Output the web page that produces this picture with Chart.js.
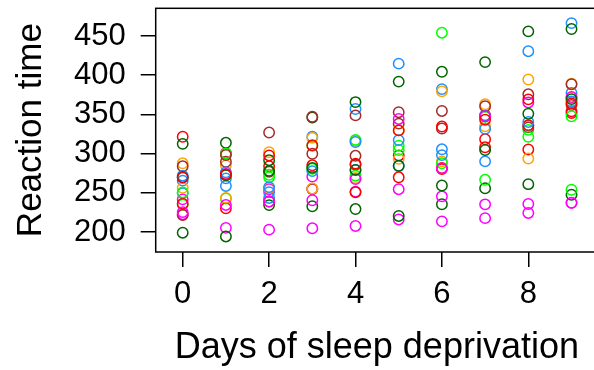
<!DOCTYPE html>
<html>
<head>
<meta charset="utf-8">
<script src="https://cdn.jsdelivr.net/npm/chart.js@4/dist/chart.umd.min.js"></script>
<style>
  html, body { margin: 0; padding: 0; background: #fff; overflow: hidden; width: 594px; height: 370px; }
  canvas { display: block; }
</style>
</head>
<body>
<canvas id="chart" width="600" height="370"></canvas>
<script>
// sleepstudy: reaction time (ms) by day, one array per subject
const days = [0, 1, 2, 3, 4, 5, 6, 7, 8, 9];
const subjects = ['308', '309', '310', '330', '331', '332', '333', '334', '335',
                  '337', '349', '350', '351', '352', '369', '370', '371', '372'];
const r308 = [249.6, 258.7, 250.8, 321.4, 356.9, 414.7, 382.2, 290.1, 430.6, 466.4];
const r309 = [222.7, 205.3, 203.0, 204.7, 207.7, 216.0, 213.6, 217.7, 224.3, 237.3];
const r310 = [199.1, 194.3, 234.3, 232.8, 229.3, 220.5, 235.4, 255.8, 261.0, 247.5];
const r330 = [321.5, 300.4, 283.9, 285.1, 285.8, 297.6, 280.2, 318.3, 305.3, 354.0];
const r331 = [287.6, 285.0, 301.8, 320.1, 316.3, 293.3, 290.1, 334.8, 293.7, 371.6];
const r332 = [234.9, 242.8, 273.0, 309.8, 317.5, 310.0, 454.2, 346.8, 330.3, 253.9];
const r333 = [283.8, 289.6, 276.8, 299.8, 297.2, 338.2, 332.0, 348.8, 333.4, 362.0];
const r334 = [265.5, 276.2, 243.4, 254.7, 279.0, 284.2, 305.5, 331.5, 335.7, 377.3];
const r335 = [241.6, 273.9, 254.5, 270.8, 251.5, 254.6, 245.5, 235.3, 235.8, 237.2];
const r337 = [312.4, 313.8, 291.6, 346.1, 365.7, 391.8, 404.3, 416.7, 455.9, 458.9];
const r349 = [236.1, 230.3, 238.9, 254.9, 250.7, 269.8, 281.6, 308.1, 336.3, 351.6];
const r350 = [256.3, 243.5, 256.2, 255.5, 268.9, 329.7, 379.4, 362.9, 394.5, 389.1];
const r351 = [250.5, 300.1, 269.9, 280.6, 271.8, 304.6, 287.7, 266.6, 321.5, 347.6];
const r352 = [221.7, 298.2, 326.9, 346.9, 348.7, 352.8, 354.4, 360.4, 375.6, 388.5];
const r369 = [271.9, 268.4, 257.2, 277.7, 314.8, 317.2, 298.1, 348.1, 340.3, 366.5];
const r370 = [225.3, 234.5, 238.9, 240.5, 267.5, 344.2, 281.1, 347.6, 365.2, 372.2];
const r371 = [269.9, 272.4, 277.9, 281.8, 279.2, 284.5, 259.3, 304.6, 350.8, 369.5];
const r372 = [269.4, 273.5, 297.6, 310.6, 287.2, 329.6, 334.5, 343.2, 369.1, 364.1];
const reaction = [r308, r309, r310, r330, r331, r332, r333, r334, r335,
                  r337, r349, r350, r351, r352, r369, r370, r371, r372];
const xTicks = [0, 2, 4, 6, 8];
const yTicks = [200, 250, 300, 350, 400, 450];

// colours cycle over the subjects
const palette = ['#1E90FF', '#FF00FF', '#006400', '#FF0000', '#FFA500', '#00FF00', '#A52A2A'];
const FONT = '"Liberation Sans", Arial, Helvetica, sans-serif';

// one dataset so later subjects are drawn on top, like base graphics
const points = [];
const colors = [];
subjects.forEach((s, i) => {
  days.forEach((d, j) => {
    points.push({ x: d, y: reaction[i][j] });
    colors.push(palette[i % palette.length]);
  });
});

// full box around the plot region (right side runs off the page)
const boxPlugin = {
  id: 'box',
  afterDraw(chart) {
    const { ctx, chartArea: a } = chart;
    ctx.save();
    ctx.strokeStyle = '#000';
    ctx.lineWidth = 1.5;
    ctx.strokeRect(a.left, a.top, a.right - a.left, a.bottom - a.top);
    ctx.restore();
  }
};

// fixed axis sizes, no automatic label padding
const noPad = (s) => { s.paddingLeft = 0; s.paddingRight = 0; s.paddingTop = 0; s.paddingBottom = 0; };

const tickGrid = { display: true, drawOnChartArea: false, drawTicks: true, tickLength: 15, color: '#000', lineWidth: 1.5 };

new Chart(document.getElementById('chart').getContext('2d'), {
  type: 'scatter',
  data: {
    datasets: [{
      data: points,
      pointStyle: 'circle',
      pointRadius: 5.2,
      pointHoverRadius: 5.2,
      pointBorderWidth: 1.5,
      pointBorderColor: colors,
      pointBackgroundColor: 'rgba(0,0,0,0)'
    }]
  },
  options: {
    responsive: false,
    animation: false,
    events: [],
    layout: { autoPadding: false, padding: { top: 8.3, right: 2, bottom: 0, left: 0 } },
    plugins: { legend: { display: false }, tooltip: { enabled: false } },
    scales: {
      x: {
        type: 'linear',
        min: -0.625,
        max: 9.613,
        afterBuildTicks: (s) => { s.ticks = xTicks.map(v => ({ value: v })); },
        afterFit: (s) => { s.height = 118; noPad(s); },
        grid: tickGrid,
        border: { display: false },
        ticks: { color: '#000', font: { family: FONT, size: 31 }, padding: 9, maxRotation: 0, callback: (v) => String(v) },
        title: { display: true, text: 'Days of sleep deprivation', color: '#000', font: { family: FONT, size: 36 }, padding: { top: 0, bottom: 0 } }
      },
      y: {
        min: 174.5,
        max: 485.3,
        afterBuildTicks: (s) => { s.ticks = yTicks.map(v => ({ value: v })); },
        afterFit: (s) => { s.width = 155.7; noPad(s); },
        grid: tickGrid,
        border: { display: false },
        ticks: { color: '#000', font: { family: FONT, size: 31 }, padding: 15, callback: (v) => String(v) },
        title: { display: true, text: 'Reaction time', color: '#000', font: { family: FONT, size: 35 }, padding: { top: 10, bottom: 0 } }
      }
    }
  },
  plugins: [boxPlugin]
});
</script>
</body>
</html>
